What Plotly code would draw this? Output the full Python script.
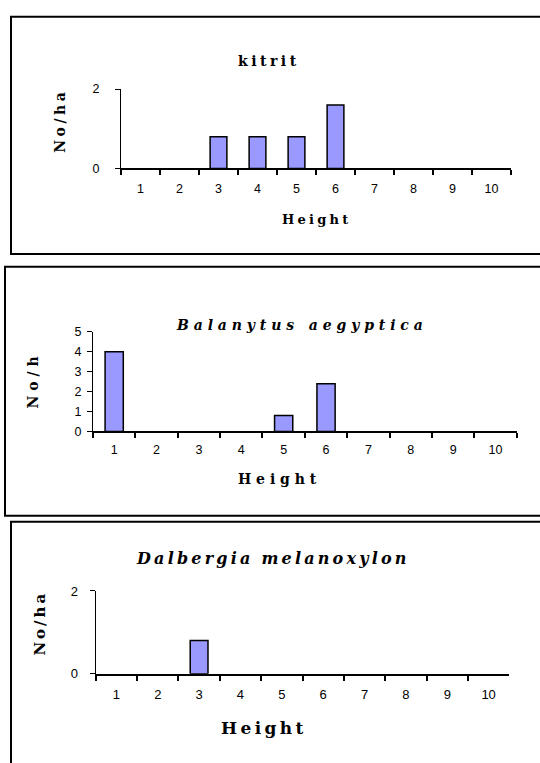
import plotly.graph_objects as go

heights = ["1", "2", "3", "4", "5", "6", "7", "8", "9", "10"]
kitrit = [0, 0, 0.8, 0.8, 0.8, 1.6, 0, 0, 0, 0]
balanytus = [4, 0, 0, 0, 0.8, 2.4, 0, 0, 0, 0]
dalbergia = [0, 0, 0.8, 0, 0, 0, 0, 0, 0, 0]

W, H = 540, 763


def px(x):
    return x / W


def py(y):
    return 1 - y / H


BAR = "#9999FF"
SERIF = "DejaVu Serif"
SANS = "Liberation Sans"

fig = go.Figure()

panels = [
    # values, axis suffix, x0,x1 px, ytop,ybottom px, yrange, tickvals, font size, x standoff, y standoff
    (kitrit, "", 121, 511, 83.7, 164.7, [0, 2], [0, 2], 12.5, 8, 13),
    (balanytus, "2", 93, 516.7, 331.3, 433, [0, 5], [0, 1, 2, 3, 4, 5], 12.5, 6, 3),
    (dalbergia, "3", 95.7, 509.3, 595.7, 680, [0, 2], [0, 2], 13, 8, 9),
]

for vals, sfx, x0, x1, yt, yb, yr, tv, fs, xso, yso in panels:
    fig.add_trace(go.Bar(
        x=heights, y=vals,
        xaxis="x" + sfx, yaxis="y" + sfx,
        marker=dict(color=BAR,
                    line=dict(color="black", width=[1.5 if v > 0 else 0 for v in vals])),
        width=0.43,
        showlegend=False,
        hoverinfo="skip",
    ))
    xa = dict(
        domain=[px(x0), px(x1)], type="category", anchor="y" + sfx,
        showline=True, linecolor="black", linewidth=2,
        ticks="outside", tickson="boundaries", ticklen=5, tickwidth=1.5, tickcolor="black",
        ticklabelstandoff=xso,
        tickfont=dict(family=SANS, size=fs, color="black"),
        showgrid=False, zeroline=False, fixedrange=True,
    )
    ya = dict(
        domain=[py(yb), py(yt)], range=yr, anchor="x" + sfx,
        showline=True, linecolor="black", linewidth=1,
        ticks="outside", ticklen=5, tickwidth=1, tickcolor="black",
        ticklabelstandoff=yso,
        tickvals=tv, tickfont=dict(family=SANS, size=fs, color="black"),
        showgrid=False, zeroline=False, fixedrange=True,
    )
    fig.update_layout(**{"xaxis" + sfx: xa, "yaxis" + sfx: ya})

TH = "\u2009"  # thin space
FP = "\u2005"  # four-per-em space


def spaced(s, sep):
    return sep.join(list(s))


annotations = [
    # titles
    dict(text="<b>" + spaced("kitrit", FP) + "</b>", x=px(267), y=py(55), size=14),
    dict(text="<b><i>" + "   ".join(spaced(w, " ") for w in ["Balanytus", "aegyptica"]) + "</i></b>",
         x=px(299), y=py(324), size=14),
    dict(text="<b><i>" + "  ".join(spaced(w, TH) for w in ["Dalbergia", "melanoxylon"]) + "</i></b>",
         x=px(271), y=py(563), size=16),
    # x titles
    dict(text="<b>" + spaced("Height", FP) + "</b>", x=px(315), y=py(217), size=13),
    dict(text="<b>" + spaced("Height", " ") + "</b>", x=px(277), y=py(481), size=14),
    dict(text="<b>" + spaced("Height", TH) + "</b>", x=px(262), y=py(735), size=17),
]

for a in annotations:
    fig.add_annotation(
        text=a["text"], x=a["x"], y=a["y"], xref="paper", yref="paper",
        showarrow=False, xanchor="center", yanchor="middle",
        font=dict(family=SERIF, size=a["size"], color="black"),
    )

ytitles = [
    ("<b>" + spaced("No/ha", FP) + "</b>", 60, 118, 14),
    ("<b>" + spaced("No/h", " ") + "</b>", 33, 383, 14),
    ("<b>" + spaced("No/ha", TH) + "</b>", 40, 630, 15),
]
for t, x, y, s in ytitles:
    fig.add_annotation(
        text=t, x=px(x), y=py(y), xref="paper", yref="paper",
        showarrow=False, xanchor="center", yanchor="middle", textangle=-90,
        font=dict(family=SERIF, size=s, color="black"),
    )

boxes = [(11, 10, 252), (5, 265, 519), (11, 525, 800)]
for x0, y0, y1 in boxes:
    fig.add_shape(type="rect", xref="paper", yref="paper",
                  x0=px(x0), x1=1.05, y0=py(y1), y1=py(y0),
                  line=dict(color="black", width=2), fillcolor="rgba(0,0,0,0)")

fig.update_layout(
    width=W, height=H,
    margin=dict(l=0, r=0, t=0, b=0),
    paper_bgcolor="white", plot_bgcolor="white",
    bargap=0.57,
)

fig.write_html(
    "out.html",
    config={"displayModeBar": False},
    post_script="document.body.style.margin='0';document.body.style.overflow='hidden';",
)
